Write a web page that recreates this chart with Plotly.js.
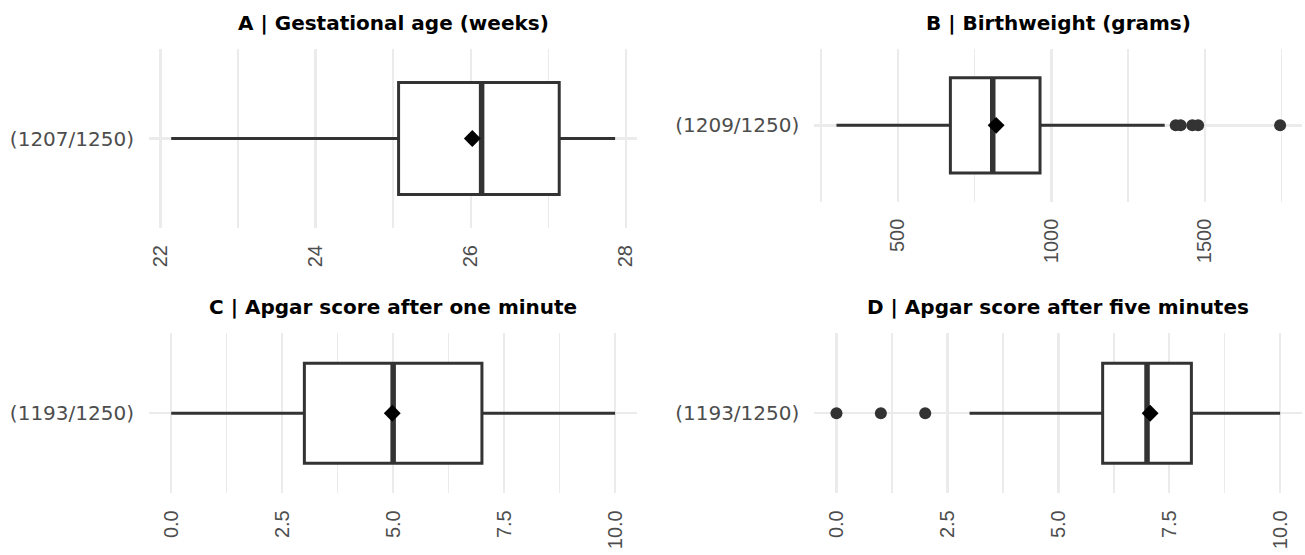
<!DOCTYPE html>
<html>
<head>
<meta charset="utf-8">
<script src="https://cdn.plot.ly/plotly-3.0.1.min.js"></script>
<style>
  html, body { margin: 0; padding: 0; background: #ffffff; }
  #chart { width: 1305px; height: 555px; }
</style>
</head>
<body>
<div id="chart"></div>
<script>
// ---- data ----
const titles = [
  'A | Gestational age (weeks)',
  'B | Birthweight (grams)',
  'C | Apgar score after one minute',
  'D | Apgar score after five minutes'
];
const countLabels = ['(1207/1250)', '(1209/1250)', '(1193/1250)', '(1193/1250)'];
const lowerWhisker = [22.14, 300, 0, 3];
const q1Values     = [25.07, 671, 3, 6];
const medianValues = [26.14, 809, 5, 7];
const q3Values     = [27.14, 963, 7, 8];
const upperWhisker = [27.86, 1369, 10, 10];
const meanValues   = [26.02, 820, 4.98, 7.07];
const outliersA = [];
const outliersB = [1405, 1421, 1459, 1478, 1745];
const outliersC = [];
const outliersD = [0, 1, 2];
const outliers = [outliersA, outliersB, outliersC, outliersD];
const majorStep = [2, 500, 2.5, 2.5];
const minorStep = [1, 250, 1.25, 1.25];
const tickFormats = ['', '', '.1f', '.1f'];

// ---- layout geometry (pixels of the 1305x555 page) ----
const W = 1305, H = 555;
const colX = [[149, 637.3], [814.3, 1302.3]];
const panelY = [[49, 228], [49, 201.7], [333.3, 493.3], [333.3, 493.3]];
const titleY = [22.5, 22.5, 307, 307];
const boxWidth = 0.75;

const traces = [];
const layout = {
  width: W, height: H,
  margin: {l: 0, r: 0, t: 0, b: 0},
  paper_bgcolor: '#ffffff', plot_bgcolor: '#ffffff',
  showlegend: false,
  hovermode: false,
  annotations: []
};

for (let i = 0; i < 4; i++) {
  const sfx = i === 0 ? '' : String(i + 1);
  const xa = 'x' + sfx, ya = 'y' + sfx;
  const col = colX[i % 2];
  const py = panelY[i];

  const allVals = [lowerWhisker[i], upperWhisker[i]].concat(outliers[i]);
  const lo = Math.min.apply(null, allVals), hi = Math.max.apply(null, allVals);
  const pad = 0.05 * (hi - lo);

  layout['xaxis' + sfx] = {
    domain: [col[0] / W, col[1] / W],
    anchor: ya,
    range: [lo - pad, hi + pad],
    tick0: 0, dtick: majorStep[i],
    tickformat: tickFormats[i],
    showgrid: true, gridcolor: '#EBEBEB', gridwidth: 2.4,
    minor: {dtick: minorStep[i], showgrid: true, gridcolor: '#EBEBEB', gridwidth: 1.6},
    zeroline: false, showline: false, ticks: '',
    tickangle: -90,
    ticklabelstandoff: 12,
    tickfont: {family: 'Liberation Sans, Arial, sans-serif', size: 20, color: '#4D4D4D'},
    fixedrange: true
  };
  layout['yaxis' + sfx] = {
    domain: [1 - py[1] / H, 1 - py[0] / H],
    anchor: xa,
    range: [0.4, 1.6],
    tickvals: [1], ticktext: [countLabels[i]],
    showgrid: true, gridcolor: '#EBEBEB', gridwidth: 2.4,
    zeroline: false, showline: false, ticks: '',
    ticklabelstandoff: 14,
    tickfont: {family: 'DejaVu Sans, sans-serif', size: 20, color: '#4D4D4D'},
    fixedrange: true
  };

  layout.annotations.push({
    text: '<b>' + titles[i] + '</b>',
    xref: 'paper', yref: 'paper',
    x: (col[0] + col[1]) / 2 / W, y: 1 - titleY[i] / H,
    xanchor: 'center', yanchor: 'middle',
    showarrow: false,
    font: {family: 'DejaVu Sans, sans-serif', size: 20, color: '#000000'}
  });

  traces.push({
    type: 'box', orientation: 'h',
    y: [1],
    q1: [q1Values[i]], median: [medianValues[i]], q3: [q3Values[i]],
    lowerfence: [lowerWhisker[i]], upperfence: [upperWhisker[i]],
    width: boxWidth, whiskerwidth: 0,
    fillcolor: '#ffffff',
    line: {color: '#333333', width: 3},
    boxpoints: false,
    xaxis: xa, yaxis: ya, hoverinfo: 'skip'
  });
  traces.push({
    type: 'scatter', mode: 'lines',
    x: [medianValues[i], medianValues[i]],
    y: [1 - boxWidth / 2, 1 + boxWidth / 2],
    line: {color: '#333333', width: 5.5},
    xaxis: xa, yaxis: ya, hoverinfo: 'skip'
  });
  if (outliers[i].length) {
    traces.push({
      type: 'scatter', mode: 'markers',
      x: outliers[i], y: outliers[i].map(() => 1),
      marker: {symbol: 'circle', size: 12, color: '#333333'},
      xaxis: xa, yaxis: ya, hoverinfo: 'skip'
    });
  }
  traces.push({
    type: 'scatter', mode: 'markers',
    x: [meanValues[i]], y: [1],
    marker: {symbol: 'diamond', size: 13, color: '#000000'},
    xaxis: xa, yaxis: ya, hoverinfo: 'skip'
  });
}

Plotly.newPlot('chart', traces, layout, {staticPlot: true, displayModeBar: false});
</script>
</body>
</html>
